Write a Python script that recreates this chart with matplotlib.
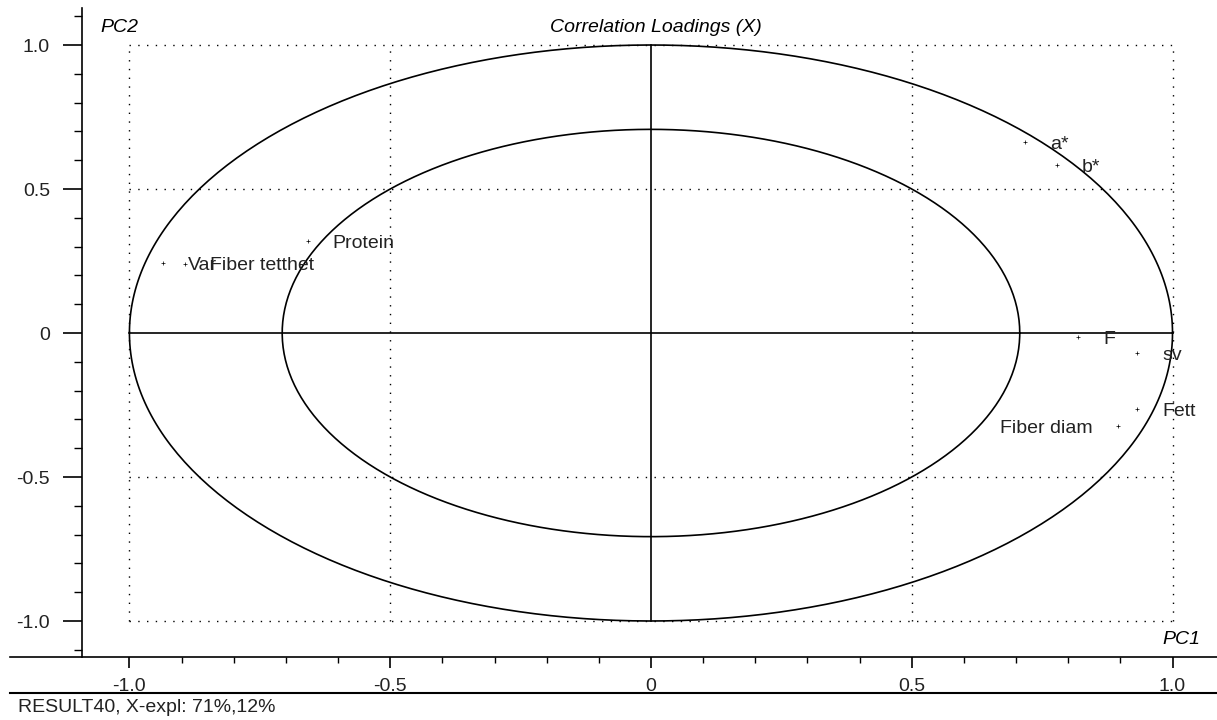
import numpy as np
from matplotlib import pyplot as plt
from matplotlib.lines import Line2D

plt.rcParams['font.family'] = ['Liberation Sans', 'DejaVu Sans']

########## data ##########
names = ["a*", "b*", "Protein", "Var", "Fiber tetthet", "F", "sv", "Fett", "Fiber diam"]
pc1 = [0.717, 0.778, -0.658, -0.936, -0.894, 0.819, 0.932, 0.932, 0.895]
pc2 = [0.663, 0.583, 0.319, 0.243, 0.240, -0.014, -0.070, -0.264, -0.323]
label_side = ["r", "r", "r", "r", "r", "r", "r", "r", "l"]

x_ticks = [-1.0, -0.5, 0, 0.5, 1.0]
x_tick_labels = ["-1.0", "-0.5", "0", "0.5", "1.0"]
y_ticks = [1.0, 0.5, 0, -0.5, -1.0]
y_tick_labels = ["1.0", "0.5", "0", "-0.5", "-1.0"]
radii = [1.0, np.sqrt(0.5)]

W, H = 1217, 720
fig = plt.figure(figsize=(W/100, H/100), dpi=100)

# axes box in pixels: x 10..1217, y 8..657
ax = fig.add_axes([10/W, 1-657/H, (1217-10)/W, (657-8)/H])
ax.set_xlim(-1.229, 1.0853)
ax.set_ylim(-1.125, 1.1285)

ax.spines['top'].set_visible(False)
ax.spines['right'].set_visible(False)
ax.spines['left'].set_position(('data', -1.091))
ax.spines['left'].set_linewidth(1.2)
ax.spines['bottom'].set_linewidth(1.2)

ax.set_xticks(x_ticks)
ax.set_xticklabels(x_tick_labels, fontsize=14, color='#222222')
ax.set_yticks(y_ticks)
ax.set_yticklabels(y_tick_labels, fontsize=14, color='#222222')
ax.set_xticks(np.arange(-1.0, 1.05, 0.1), minor=True)
ax.set_yticks(np.arange(-1.1, 1.15, 0.1), minor=True)
ax.tick_params(axis='x', which='major', direction='out', length=8, width=1.2, pad=7)
ax.tick_params(axis='x', which='minor', direction='out', length=4, width=1.0)
ax.tick_params(axis='y', which='major', direction='out', length=14, width=1.2, pad=9)
ax.tick_params(axis='y', which='minor', direction='out', length=6, width=1.0)

# dotted grid inside the unit square
for g in [-1.0, -0.5, 0.5, 1.0]:
    ax.plot([g, g], [-1, 1], color='black', lw=1.0, ls=(0, (1, 5.3)))
    ax.plot([-1, 1], [g, g], color='black', lw=1.0, ls=(0, (1, 5.3)))

# axes through origin
ax.plot([-1, 1], [0, 0], color='black', lw=1.2)
ax.plot([0, 0], [-1, 1], color='black', lw=1.2)

# correlation circles (100% and 50% explained variance)
t = np.linspace(0, 2*np.pi, 400)
for r in radii:
    ax.plot(r*np.cos(t), r*np.sin(t), color='black', lw=1.2)

# loadings
ax.plot(pc1, pc2, ls='none', marker='+', ms=3, mew=0.5, color='black')
for i in range(len(names)):
    if label_side[i] == "r":
        ax.annotate(names[i], (pc1[i], pc2[i]), xytext=(18, 0), textcoords='offset points',
                    ha='left', va='center_baseline', fontsize=14, color='#222222')
    else:
        ax.annotate(names[i], (pc1[i], pc2[i]), xytext=(-18, 0), textcoords='offset points',
                    ha='right', va='center_baseline', fontsize=14, color='#222222')

fig.text(100/W, 1-27/H, "PC2", fontsize=14, style='italic', ha='left', va='center')
fig.text(1200/W, 1-640/H, "PC1", fontsize=14, style='italic', ha='right', va='center')
fig.text(656/W, 1-27/H, "Correlation Loadings (X)", fontsize=14, style='italic',
         ha='center', va='center')

# separator and footnote
fig.add_artist(Line2D([10/W, 1.0], [1-693/H, 1-693/H], color='black', lw=1.5))
fig.text(18/W, 1-707/H, "RESULT40, X-expl: 71%,12%", fontsize=14, ha='left', va='center',
         color='#222222')

plt.savefig("out.png", dpi=100)
